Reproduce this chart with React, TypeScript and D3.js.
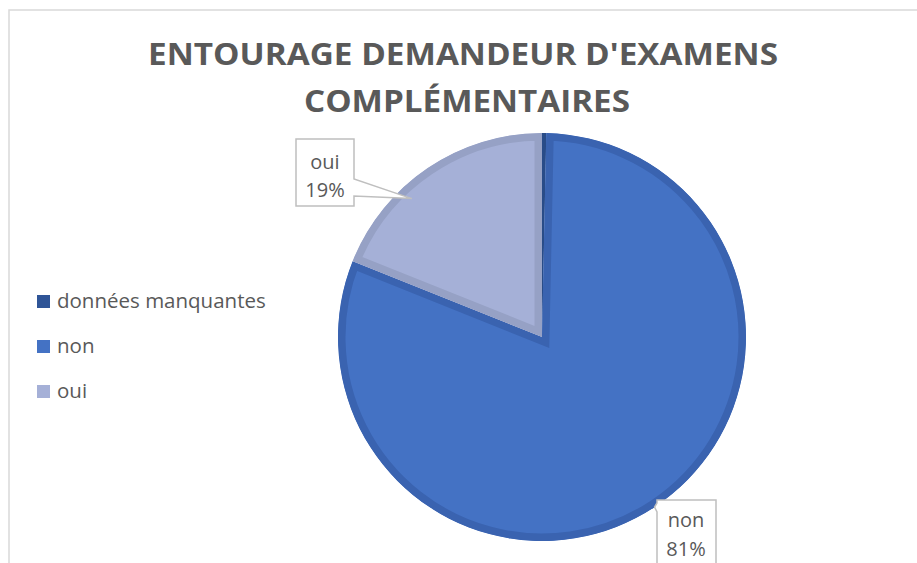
import * as d3 from "d3";

const categories = ["données manquantes", "non", "oui"];
const counts = [1, 243, 57];
const percentLabels = ["", "81%", "19%"];
const fills = ["#2F5597", "#4472C4", "#A5B0D7"];
const borders = ["#294C88", "#3A63B0", "#96A1C5"];

const W = 917;
const H = 563;
const CX = 542;
const CY = 337;
const R = 204;
const BAND = 7.5; // inner border width of each slice

const titleLines = ["ENTOURAGE DEMANDEUR D'EXAMENS", "COMPLÉMENTAIRES"];

export default function App() {
  const pie = d3.pie<number>().sort(null).value((d) => d)(counts);
  const arc = d3.arc<d3.PieArcDatum<number>>().innerRadius(0).outerRadius(R);

  // callout tips, placed on the slice's middle angle
  const tip = (i: number, rr: number, shift = 0) => {
    const p = pie[i];
    const a = (p.startAngle + p.endAngle) / 2 + shift;
    const [x, y] = d3.pointRadial(a, rr);
    return [CX + x, CY + y];
  };
  const [ouiTx, ouiTy] = tip(2, 190, -0.16);
  const [nonTx, nonTy] = tip(1, R);

  const textColor = "#595959";
  const font = "'Open Sans', sans-serif";

  return (
    <svg
      width={W}
      height={H}
      style={{ position: "absolute", left: 0, top: 0, background: "#fff" }}
    >
      <defs>
        {pie.map((p, i) => (
          <clipPath id={`clip${i}`} key={i}>
            <path d={arc(p) || ""} transform={`translate(${CX},${CY})`} />
          </clipPath>
        ))}
      </defs>

      <rect x={9} y={10} width={W + 20} height={H + 20} fill="#fff" stroke="#D9D9D9" strokeWidth={1.5} />

      {titleLines.map((t, i) => (
        <text
          key={i}
          x={i === 0 ? 463 : 467}
          y={i === 0 ? 65 : 112}
          textAnchor="middle"
          fontFamily={font}
          fontWeight={700}
          fontSize={31}
          fill={textColor}
          textLength={i === 0 ? 630 : 326}
          lengthAdjust="spacingAndGlyphs"
        >
          {t}
        </text>
      ))}

      {pie.map((p, i) => (
        <g key={i} clipPath={`url(#clip${i})`}>
          <path
            d={arc(p) || ""}
            transform={`translate(${CX},${CY})`}
            fill={fills[i]}
            stroke={borders[i]}
            strokeWidth={BAND * 2}
            strokeLinejoin="miter"
          />
        </g>
      ))}

      {categories.map((c, i) => (
        <g key={c} transform={`translate(37,${308 + i * 45})`}>
          <rect x={0} y={-13} width={13} height={13} fill={fills[i]} />
          <text x={20} y={0} fontFamily={font} fontSize={20.5} fill={textColor}>
            {c}
          </text>
        </g>
      ))}

      {/* oui callout */}
      <path
        d={`M296,139 H354 V179 L${ouiTx},${ouiTy} L354,196 V206 H296 Z`}
        fill="#fff"
        stroke="#BFBFBF"
        strokeWidth={1.5}
      />
      <text x={325} y={169} textAnchor="middle" fontFamily={font} fontSize={20} fill={textColor}>
        {categories[2]}
      </text>
      <text x={325} y={197} textAnchor="middle" fontFamily={font} fontSize={20} fill={textColor}>
        {percentLabels[2]}
      </text>

      {/* non callout */}
      <path
        d={`M657,500 H716 V580 H657 V512 L${nonTx},${nonTy} L657,503 Z`}
        fill="#fff"
        stroke="#BFBFBF"
        strokeWidth={1.5}
      />
      <text x={686} y={527} textAnchor="middle" fontFamily={font} fontSize={20} fill={textColor}>
        {categories[1]}
      </text>
      <text x={686} y={556} textAnchor="middle" fontFamily={font} fontSize={20} fill={textColor}>
        {percentLabels[1]}
      </text>
    </svg>
  );
}
